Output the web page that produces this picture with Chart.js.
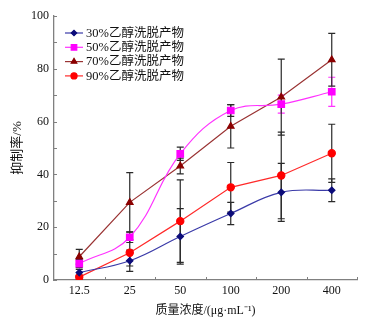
<!DOCTYPE html>
<html>
<head>
<meta charset="utf-8">
<script src="https://cdn.jsdelivr.net/npm/chart.js@4.4.1/dist/chart.umd.min.js"></script>
<style>
  body { margin: 0; background: #fff; }
  canvas { display: block; }
</style>
</head>
<body>
<canvas id="chart" width="378" height="323"></canvas>
<script>
// concentrations (category axis)
var concLabels = ['12.5', '25', '50', '100', '200', '400'];

var seriesNames = ['30%乙醇洗脱产物', '50%乙醇洗脱产物', '70%乙醇洗脱产物', '90%乙醇洗脱产物'];

// inhibition rate, %
var eth30 = [2.8, 7.3, 16.5, 25.2, 33.2, 34.0];
var eth50 = [6.2, 16.2, 47.8, 64.2, 66.6, 71.3];
var eth70 = [8.8, 29.4, 43.2, 58.2, 69.3, 83.4];
var eth90 = [1.1, 10.3, 22.3, 35.1, 39.6, 48.0];

// error bars (+/-)
var err30 = [1.2, 4.0, 10.5, 4.2, 11.0, 4.3];
var err50 = [1.5, 2.0, 2.5, 2.2, 3.4, 5.5];
var err70 = [2.8, 11.3, 3.0, 8.2, 14.4, 10.0];
var err90 = [0.8, 5.0, 15.6, 9.4, 16.4, 11.0];

var yTicks = [0, 20, 40, 60, 80, 100];

var serif = '"Liberation Serif", "Noto Sans CJK SC", serif';

// error bars drawn with the scales, axis tick marks pointing inward, legend inside plot
var extrasPlugin = {
    id: 'extras',
    beforeDatasetsDraw: function (chart) {
        var ctx = chart.ctx;
        var xs = chart.scales.x, ys = chart.scales.y;
        ctx.save();
        ctx.lineWidth = 1.2;
        chart.data.datasets.forEach(function (ds) {
            ds.errors.forEach(function (e, i) {
                var x = xs.getPixelForValue(i);
                var yHi = ys.getPixelForValue(ds.data[i] + e);
                var yLo = ys.getPixelForValue(ds.data[i] - e);
                ctx.strokeStyle = Array.isArray(ds.errColor) ? ds.errColor[i] : ds.errColor;
                ctx.beginPath();
                ctx.moveTo(x, yHi); ctx.lineTo(x, yLo);
                ctx.moveTo(x - 3.5, yHi); ctx.lineTo(x + 3.5, yHi);
                ctx.moveTo(x - 3.5, yLo); ctx.lineTo(x + 3.5, yLo);
                ctx.stroke();
            });
        });
        ctx.restore();
    },
    afterDraw: function (chart) {
        var ctx = chart.ctx;
        var xs = chart.scales.x, ys = chart.scales.y;
        var area = chart.chartArea;
        ctx.save();
        ctx.strokeStyle = '#808080';
        ctx.lineWidth = 1;
        ctx.beginPath();
        // y ticks every 10
        for (var v = 0; v <= 100; v += 10) {
            var py = Math.round(ys.getPixelForValue(v)) + 0.5;
            ctx.moveTo(area.left, py); ctx.lineTo(area.left + 3, py);
        }
        // x ticks between categories
        var step = xs.getPixelForValue(1) - xs.getPixelForValue(0);
        for (var i = 0; i < concLabels.length; i++) {
            var px = Math.round(xs.getPixelForValue(i) + step / 2) + 0.5;
            ctx.moveTo(px, area.bottom); ctx.lineTo(px, area.bottom - 3);
        }
        ctx.stroke();

        // legend
        var lx = area.left + 11, ly = area.top + 17, rowH = 14.3;
        chart.data.datasets.forEach(function (ds, k) {
            var y = ly + k * rowH;
            ctx.strokeStyle = ds.borderColor;
            ctx.lineWidth = 1.2;
            ctx.beginPath();
            ctx.moveTo(lx, y); ctx.lineTo(lx + 18, y);
            ctx.stroke();
            ctx.fillStyle = ds.pointBackgroundColor;
            ctx.strokeStyle = ds.pointBorderColor;
            Chart.helpers.drawPoint(ctx, {
                pointStyle: ds.pointStyle, radius: ds.pointRadius * 0.85, borderWidth: 1, rotation: 0
            }, lx + 9, y);
            ctx.fillStyle = '#111';
            ctx.font = '12.5px ' + serif;
            ctx.textBaseline = 'middle';
            ctx.textAlign = 'left';
            ctx.fillText(seriesNames[k], lx + 21, y + 0.5);
        });
        ctx.restore();
    }
};

var config = {
    type: 'line',
    data: {
        labels: concLabels,
        datasets: [{
            label: seriesNames[0],
            data: eth30,
            errors: err30,
            errColor: '#2a2a2a',
            borderColor: '#3a3aa8',
            borderWidth: 1.2,
            tension: 0.4,
            pointStyle: 'rectRot',
            pointRadius: 3.2,
            pointBackgroundColor: '#0c0c7a',
            pointBorderColor: '#0c0c7a'
        }, {
            label: seriesNames[1],
            data: eth50,
            errors: err50,
            errColor: ['#2a2a2a', '#2a2a2a', '#2a2a2a', '#2a2a2a', '#ff33ff', '#ff33ff'],
            borderColor: '#ff33ff',
            borderWidth: 1.2,
            tension: 0.4,
            pointStyle: 'rect',
            pointRadius: 4.6,
            pointBackgroundColor: '#ff00ff',
            pointBorderColor: '#ff00ff'
        }, {
            label: seriesNames[2],
            data: eth70,
            errors: err70,
            errColor: '#2a2a2a',
            borderColor: '#9a3434',
            borderWidth: 1.2,
            tension: 0,
            pointStyle: 'triangle',
            pointRadius: 3.8,
            pointBackgroundColor: '#8b0000',
            pointBorderColor: '#8b0000'
        }, {
            label: seriesNames[3],
            data: eth90,
            errors: err90,
            errColor: '#2a2a2a',
            borderColor: '#ff2a2a',
            borderWidth: 1.2,
            tension: 0,
            pointStyle: 'circle',
            pointRadius: 3.6,
            pointBackgroundColor: '#ff0000',
            pointBorderColor: '#ff0000'
        }]
    },
    options: {
        responsive: false,
        animation: false,
        layout: { padding: { left: 0, right: 21, top: 16, bottom: 0 } },
        plugins: {
            legend: { display: false },
            tooltip: { enabled: false }
        },
        scales: {
            x: {
                type: 'category',
                offset: true,
                grid: { display: false, drawTicks: false },
                border: { display: true, color: '#808080', width: 1.3 },
                ticks: { color: '#111', padding: 4, maxRotation: 0, font: { family: serif, size: 12 } },
                title: {
                    display: true,
                    text: '质量浓度/(μg·mL⁻¹)',
                    color: '#111',
                    padding: { top: 2, bottom: 5 },
                    font: { family: serif, size: 12 }
                },
                afterFit: function (scale) { scale.height = 43; }
            },
            y: {
                min: 0,
                max: 100,
                afterBuildTicks: function (scale) {
                    scale.ticks = yTicks.map(function (v) { return { value: v }; });
                },
                grid: { display: false, drawTicks: false },
                border: { display: true, color: '#808080', width: 1.3 },
                ticks: { color: '#111', padding: 5, font: { family: serif, size: 12 } },
                title: {
                    display: true,
                    text: '抑制率/%',
                    color: '#111',
                    padding: { top: 10, bottom: 0 },
                    font: { family: serif, size: 13 }
                },
                afterFit: function (scale) { scale.width = 54; }
            }
        }
    },
    plugins: [extrasPlugin]
};

var ctx = document.getElementById('chart').getContext('2d');
window.myChart = new Chart(ctx, config);
</script>
</body>
</html>
